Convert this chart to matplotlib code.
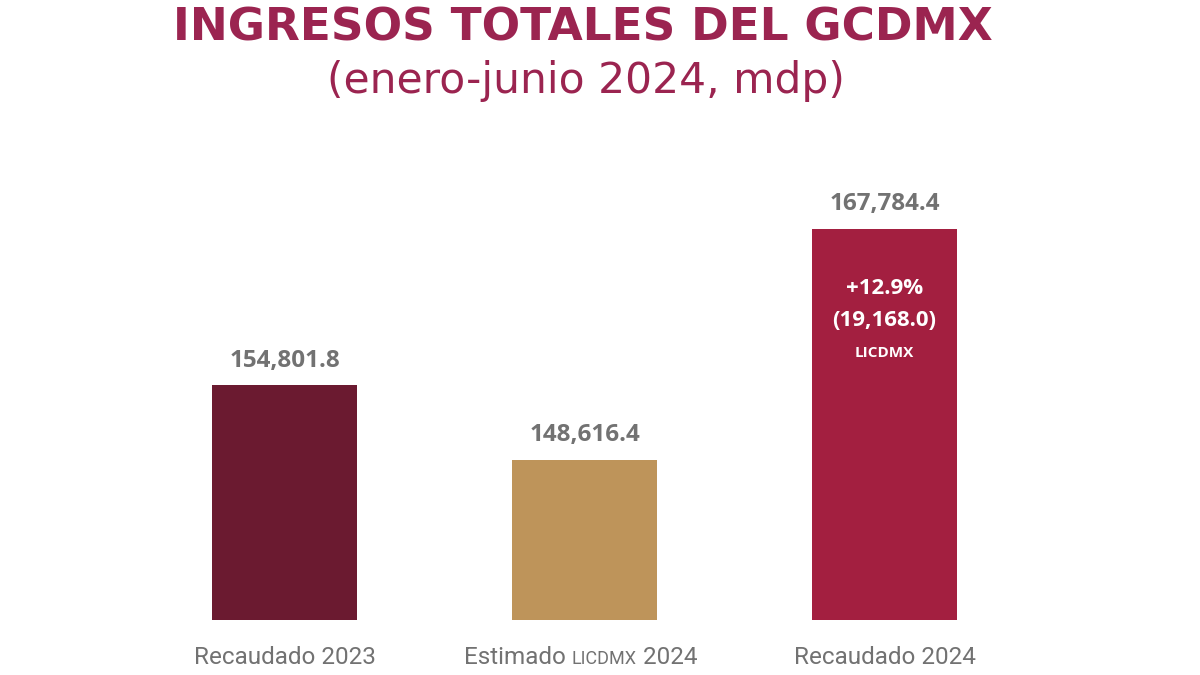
import matplotlib
matplotlib.use("Agg")
import matplotlib.pyplot as plt
from matplotlib import font_manager

# datos (enero-junio 2024, millones de pesos)
categories = ["Recaudado 2023", "Estimado LICDMX 2024", "Recaudado 2024"]
values = [154801.8, 148616.4, 167784.4]
value_labels = ["154,801.8", "148,616.4", "167,784.4"]
growth_lines = ["+12.9%", "(19,168.0)", "LICDMX"]

BAR_COLORS = ["#6b1a30", "#be945a", "#a31f40"]
TITLE_COLOR = "#9b2450"
GREY = "#727272"

names = {f.name for f in font_manager.fontManager.ttflist}
NARROW = "Liberation Sans Narrow" if "Liberation Sans Narrow" in names else "Roboto"

W, H = 1200, 675
fig = plt.figure(figsize=(W / 100, H / 100), dpi=100)
fig.patch.set_facecolor("white")

# ejes en pixeles: base de barras y=620, tope barra mayor y=229
ax = fig.add_axes([0, (H - 620) / H, 1, 391 / H])
x = list(range(len(values)))
ax.bar(x, values, width=0.483, color=BAR_COLORS, bottom=0)
ax.set_xlim(-284.5 / 300, (W - 284.5) / 300)
ax.set_ylim(135300, values[2])
ax.axis("off")

for xi, v, lbl in zip(x, values, value_labels):
    ax.annotate(lbl, (xi, v), xytext=(0, 9), textcoords="offset points",
                ha="center", va="bottom", fontsize=17.5, fontweight="bold",
                color=GREY, family="Open Sans")

# texto dentro de la barra 2024
for dy, txt, fs in zip([-60, -92, -124], growth_lines, [16, 16, 11]):
    ax.annotate(txt, (2, values[2]), xytext=(0, dy * 0.72), textcoords="offset points",
                ha="center", va="center", fontsize=fs, fontweight="bold",
                color="white", family="Open Sans")

# titulo
fig.text(583 / W, 1 - 28 / H, "INGRESOS TOTALES DEL GCDMX", ha="center", va="center",
         fontsize=32.7, fontweight="bold", color=TITLE_COLOR, family="DejaVu Sans")
fig.text(586 / W, 1 - 81 / H, "(enero-junio 2024, mdp)", ha="center", va="center",
         fontsize=30.5, fontweight="normal", color=TITLE_COLOR, family="DejaVu Sans")

# etiquetas de categoria
fig.canvas.draw()
renderer = fig.canvas.get_renderer()
cat_y = 1 - 664 / H
centers = [284.5, 580.5, 884.5]
for c, cat in zip(centers, categories):
    if "LICDMX" in cat:
        pieces = [("Estimado ", 17.5), ("LICDMX", 13), (" 2024", 17.5)]
        texts = []
        for s, fs in pieces:
            t = fig.text(0, cat_y, s, ha="left", va="baseline", fontsize=fs,
                         color=GREY, family=NARROW)
            texts.append(t)
        widths = [t.get_window_extent(renderer).width for t in texts]
        left = c - sum(widths) / 2
        for t, w in zip(texts, widths):
            t.set_x(left / W)
            left += w
    else:
        fig.text(c / W, cat_y, cat, ha="center", va="baseline", fontsize=17.5,
                 color=GREY, family=NARROW)

fig.savefig("out.png", dpi=100, facecolor="white")
